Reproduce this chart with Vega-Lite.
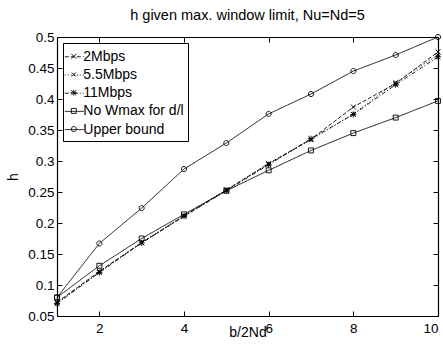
{
  "$schema": "https://vega.github.io/schema/vega-lite/v6.json",
  "autosize": "none",
  "width": 381,
  "height": 279,
  "padding": {"left": 57, "top": 37, "right": 5, "bottom": 30},
  "background": "white",
  "title": {"text": "h given max. window limit, Nu=Nd=5", "font": "Liberation Sans", "fontSize": 14.5, "fontWeight": "normal", "color": "black", "offset": 7},
  "config": {
    "font": "Liberation Sans",
    "view": {"stroke": null},
    "axis": {"domainColor": "black", "domainWidth": 1.2, "tickColor": "black", "labelColor": "black", "labelFont": "Liberation Sans", "labelFontSize": 13.5, "titleFont": "Liberation Sans", "titleFontSize": 14, "titleFontWeight": "normal", "titleColor": "black", "grid": false, "tickSize": -5},
    "legend": {"labelFont": "Liberation Sans", "labelFontSize": 14, "labelColor": "black", "symbolStrokeColor": "black", "symbolStrokeWidth": 0.9, "symbolFillColor": "transparent", "symbolSize": 361, "padding": 3.8, "symbolOffset": -2.5, "labelOffset": -1, "rowPadding": 1.2, "labelLimit": 200}
  },
  "data": {"values": [
    {"series": "2Mbps", "x": 1, "h": 0.072}, {"series": "2Mbps", "x": 2, "h": 0.122}, {"series": "2Mbps", "x": 3, "h": 0.168}, {"series": "2Mbps", "x": 4, "h": 0.211}, {"series": "2Mbps", "x": 5, "h": 0.253}, {"series": "2Mbps", "x": 6, "h": 0.296}, {"series": "2Mbps", "x": 7, "h": 0.335}, {"series": "2Mbps", "x": 8, "h": 0.387}, {"series": "2Mbps", "x": 9, "h": 0.425}, {"series": "2Mbps", "x": 10, "h": 0.476},
    {"series": "5.5Mbps", "x": 1, "h": 0.071}, {"series": "5.5Mbps", "x": 2, "h": 0.121}, {"series": "5.5Mbps", "x": 3, "h": 0.169}, {"series": "5.5Mbps", "x": 4, "h": 0.212}, {"series": "5.5Mbps", "x": 5, "h": 0.254}, {"series": "5.5Mbps", "x": 6, "h": 0.295}, {"series": "5.5Mbps", "x": 7, "h": 0.334}, {"series": "5.5Mbps", "x": 8, "h": 0.376}, {"series": "5.5Mbps", "x": 9, "h": 0.427}, {"series": "5.5Mbps", "x": 10, "h": 0.471},
    {"series": "11Mbps", "x": 1, "h": 0.070}, {"series": "11Mbps", "x": 2, "h": 0.120}, {"series": "11Mbps", "x": 3, "h": 0.168}, {"series": "11Mbps", "x": 4, "h": 0.211}, {"series": "11Mbps", "x": 5, "h": 0.252}, {"series": "11Mbps", "x": 6, "h": 0.294}, {"series": "11Mbps", "x": 7, "h": 0.336}, {"series": "11Mbps", "x": 8, "h": 0.375}, {"series": "11Mbps", "x": 9, "h": 0.423}, {"series": "11Mbps", "x": 10, "h": 0.468},
    {"series": "No Wmax for d/l", "x": 1, "h": 0.080}, {"series": "No Wmax for d/l", "x": 2, "h": 0.131}, {"series": "No Wmax for d/l", "x": 3, "h": 0.175}, {"series": "No Wmax for d/l", "x": 4, "h": 0.214}, {"series": "No Wmax for d/l", "x": 5, "h": 0.252}, {"series": "No Wmax for d/l", "x": 6, "h": 0.285}, {"series": "No Wmax for d/l", "x": 7, "h": 0.317}, {"series": "No Wmax for d/l", "x": 8, "h": 0.345}, {"series": "No Wmax for d/l", "x": 9, "h": 0.370}, {"series": "No Wmax for d/l", "x": 10, "h": 0.397},
    {"series": "Upper bound", "x": 1, "h": 0.080}, {"series": "Upper bound", "x": 2, "h": 0.167}, {"series": "Upper bound", "x": 3, "h": 0.224}, {"series": "Upper bound", "x": 4, "h": 0.287}, {"series": "Upper bound", "x": 5, "h": 0.329}, {"series": "Upper bound", "x": 6, "h": 0.376}, {"series": "Upper bound", "x": 7, "h": 0.408}, {"series": "Upper bound", "x": 8, "h": 0.445}, {"series": "Upper bound", "x": 9, "h": 0.471}, {"series": "Upper bound", "x": 10, "h": 0.500}
  ]},
  "resolve": {"axis": {"x": "independent", "y": "independent"}},
  "layer": [
    {
      "mark": {"type": "line", "color": "black", "strokeWidth": 0.9},
      "encoding": {
        "x": {"field": "x", "type": "quantitative", "scale": {"domain": [1, 10], "nice": false}, "axis": {"title": "b/2Nd", "values": [2, 4, 6, 8, 10], "labelPadding": 10, "titlePadding": -9}},
        "y": {"field": "h", "type": "quantitative", "scale": {"domain": [0.05, 0.5], "nice": false, "zero": false}, "axis": {"title": "h", "values": [0.05, 0.1, 0.15, 0.2, 0.25, 0.3, 0.35, 0.4, 0.45, 0.5], "format": "~g", "labelPadding": 8, "titlePadding": 7}},
        "strokeDash": {"field": "series", "type": "nominal", "scale": {"domain": ["2Mbps", "5.5Mbps", "11Mbps", "No Wmax for d/l", "Upper bound"], "range": [[4, 2], [1, 2], [4, 2, 1, 2], [1, 0], [1, 0]]},
          "legend": {"title": null, "orient": "top-left", "offset": 5.5, "symbolType": "stroke", "strokeColor": "black", "fillColor": null}
        }
      }
    },
    {
      "mark": {"type": "point", "color": "black", "filled": false, "strokeWidth": 0.9, "size": 361, "opacity": 1},
      "encoding": {
        "x": {"field": "x", "type": "quantitative", "axis": {"orient": "top", "title": null, "labels": false, "values": [2, 4, 6, 8, 10]}},
        "y": {"field": "h", "type": "quantitative", "axis": {"orient": "right", "title": null, "labels": false, "values": [0.05, 0.1, 0.15, 0.2, 0.25, 0.3, 0.35, 0.4, 0.45, 0.5]}},
        "shape": {"field": "series", "type": "nominal",
          "scale": {"domain": ["2Mbps", "5.5Mbps", "11Mbps", "No Wmax for d/l", "Upper bound"],
            "range": ["M-0.26,-0.26L0.26,0.26M0.26,-0.26L-0.26,0.26", "M-0.21,-0.21L0.21,0.21M0.21,-0.21L-0.21,0.21", "M-0.26,-0.26L0.26,0.26M0.26,-0.26L-0.26,0.26M0,-0.32L0,0.32M-0.32,0L0.32,0", "M-0.26,-0.26L0.26,-0.26L0.26,0.26L-0.26,0.26Z", "M0.27,0A0.27,0.27,0,1,1,-0.27,0A0.27,0.27,0,1,1,0.27,0Z"]},
          "legend": {"title": null, "orient": "none", "legendX": 5.5, "legendY": 5.5, "labelExpr": "' '", "strokeColor": null, "fillColor": null}
        }
      }
    }
  ]
}
